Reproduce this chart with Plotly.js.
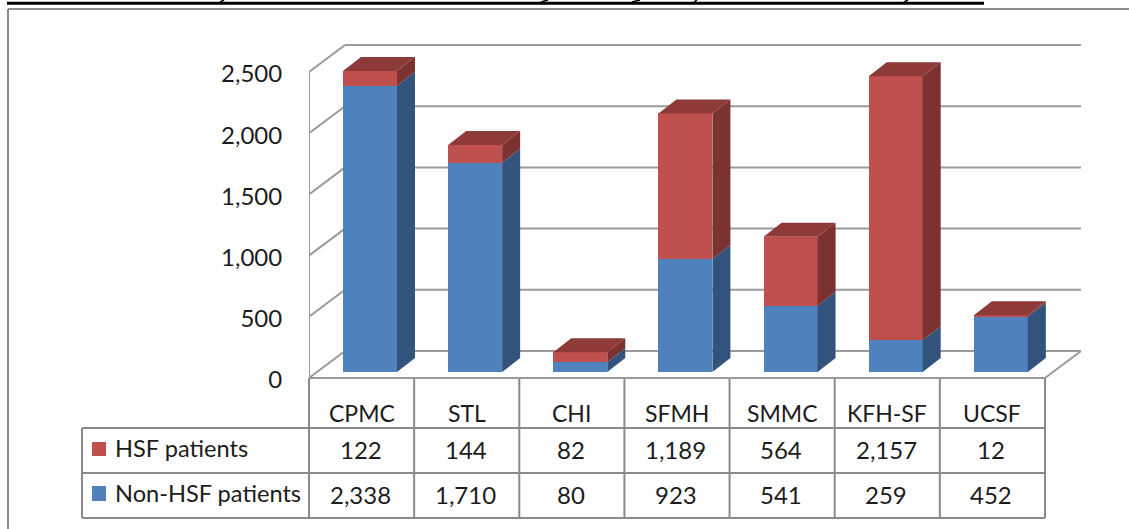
<!DOCTYPE html>
<html>
<head>
<meta charset="utf-8">
<script src="https://cdn.plot.ly/plotly-3.0.1.min.js"></script>
<style>html,body{margin:0;padding:0;background:#fff;overflow:hidden}#chart{width:1129px;height:529px}</style>
</head>
<body>
<div id="chart"></div>
<script>
var categories = ["CPMC", "STL", "CHI", "SFMH", "SMMC", "KFH-SF", "UCSF"];
var hsfPatients = [122, 144, 82, 1189, 564, 2157, 12];
var nonHsfPatients = [2338, 1710, 80, 923, 541, 259, 452];
var hsfName = "HSF patients";
var nonHsfName = "Non-HSF patients";
var yTicks = [0, 500, 1000, 1500, 2000, 2500];

var W = 1129, H = 529;
var FONT = "Lato, 'Open Sans', sans-serif";
var TEXT = "#1c1c1c", GRID = "#9a9a9a", FRAME = "#8a8a8a";
var COL = 105.14, LEFT = 309, RIGHT = 1081, TOP = 40, BOTTOM = 382;
var PXU = 0.1224;            // px per unit
var FRONT0 = 378, BAR0 = 372, LABEL0 = 380;
var DX = 36, DY = 27, SX = 18, SY = 14;
var BAR_L = 34, BAR_W = 54;

function xOf(px) { return -0.5 + (px - LEFT) / COL; }
function yOf(px) { return (BAR0 - px) / PXU; }
function py(px) { return 1 - px / H; }

var barOffset = (BAR_L - COL / 2) / COL, barWidth = BAR_W / COL;

function line(x0, y0, x1, y1, color, width, layer) {
  return {type: "line", xref: "x2", yref: "y2", x0: xOf(x0), x1: xOf(x1), y0: yOf(y0), y1: yOf(y1),
          line: {color: color || GRID, width: width || 2}, layer: layer || "below"};
}
function pline(x0, y0, x1, y1, color, width) {
  return {type: "line", xref: "paper", yref: "paper", x0: x0 / W, x1: x1 / W, y0: py(y0), y1: py(y1),
          line: {color: color || FRAME, width: width || 2}, layer: "below"};
}

var shapes = [];
// walls
yTicks.forEach(function (v) {
  var f = FRONT0 - v * PXU;
  shapes.push(line(LEFT, f, LEFT + DX, f - DY));
  shapes.push(line(LEFT + DX, f - DY, RIGHT, f - DY));
});
shapes.push(line(LEFT, FRONT0, LEFT, FRONT0 - 2500 * PXU));
shapes.push(line(LEFT, FRONT0, RIGHT - DX, FRONT0));
shapes.push(line(RIGHT - DX, FRONT0, RIGHT, FRONT0 - DY));

// outer frame + rule above
shapes.push(pline(8, 9, 8, 529));
shapes.push(pline(8, 9, 1129, 9));
shapes.push({type: "rect", xref: "paper", yref: "paper", x0: 7 / W, x1: 984 / W, y0: py(4.7), y1: py(1.8),
             fillcolor: "#000", line: {width: 0}, layer: "below"});
// tail ends of the cut-off heading above the rule
[[220, 224], [541, 548], [632, 640], [694, 697], [904, 908]].forEach(function (m) {
  shapes.push(pline(m[0], 2, m[1], 0, "#000", 1.5));
});

// table
var tRows = [FRONT0, 428, 473, 518];
shapes.push(pline(82, tRows[1], 1045, tRows[1]));
shapes.push(pline(82, tRows[2], 1045, tRows[2]));
shapes.push(pline(82, tRows[3], 1045, tRows[3]));
shapes.push(pline(82, tRows[1], 82, tRows[3]));
for (var c = 0; c <= categories.length; c++) {
  var xp = LEFT + c * COL;
  shapes.push(pline(xp, FRONT0, xp, tRows[3]));
}
// legend keys
function key(y0, y1, color) {
  return {type: "rect", xref: "paper", yref: "paper", x0: 92 / W, x1: 106 / W, y0: py(y1), y1: py(y0),
          fillcolor: color, line: {width: 0}};
}
shapes.push(key(442, 456, "#C0504D"));
shapes.push(key(486, 501, "#4F81BD"));

// 3-D faces derived from the values
function faces(bottoms, tops, withTop, sideColor, topColor) {
  var sx = [], sy = [], tx = [], ty = [];
  categories.forEach(function (_, i) {
    var xr = LEFT + BAR_L + BAR_W + i * COL;
    var xl = xr - BAR_W;
    var b = bottoms[i], t = tops[i], dy = SY / PXU;
    sx.push(xOf(xr), xOf(xr + SX), xOf(xr + SX), xOf(xr), xOf(xr), null);
    sy.push(b, b + dy, t + dy, t, b, null);
    tx.push(xOf(xl), xOf(xl + SX), xOf(xr + SX), xOf(xr), xOf(xl), null);
    ty.push(t, t + dy, t + dy, t, t, null);
  });
  var out = [{x: sx, y: sy, xaxis: "x2", yaxis: "y2", type: "scatter", mode: "lines", fill: "toself",
              fillcolor: sideColor, line: {width: 0, color: sideColor}, hoverinfo: "skip", showlegend: false}];
  if (withTop) out.push({x: tx, y: ty, xaxis: "x2", yaxis: "y2", type: "scatter", mode: "lines", fill: "toself",
              fillcolor: topColor, line: {width: 0, color: topColor}, hoverinfo: "skip", showlegend: false});
  return out;
}
var zeros = categories.map(function () { return 0; });
var totals = categories.map(function (_, i) { return nonHsfPatients[i] + hsfPatients[i]; });

var traces = [
  {type: "bar", name: nonHsfName, x: categories, y: nonHsfPatients, xaxis: "x", yaxis: "y2",
   offset: barOffset, width: barWidth, marker: {color: "#4F81BD"}},
  {type: "bar", name: hsfName, x: categories, y: hsfPatients, xaxis: "x", yaxis: "y2",
   offset: barOffset, width: barWidth, marker: {color: "#C0504D"}}
].concat(
  faces(zeros, nonHsfPatients, false, "#32547C"),
  faces(nonHsfPatients, totals, true, "#7B3230", "#8E3A38"),
  // invisible trace that carries the value axis
  [{type: "scatter", x: [categories[0]], y: [0], xaxis: "x", yaxis: "y", mode: "markers",
    marker: {opacity: 0}, hoverinfo: "skip", showlegend: false}]
);

// table text
var annotations = [];
function cell(xv, xref, yp, text, anchor, size) {
  annotations.push({x: xv, xref: xref, y: py(yp), yref: "paper", text: text, showarrow: false,
                    xanchor: anchor || "center", yanchor: "middle",
                    font: {family: FONT, size: size || 24, color: TEXT}});
}
categories.forEach(function (name, i) {
  cell(i, "x", 412.5, name, "center", 23);
  cell(i - 0.01, "x", 449, hsfPatients[i].toLocaleString("en-US"));
  cell(i - 0.01, "x", 494, nonHsfPatients[i].toLocaleString("en-US"));
});
cell(112.5 / W, "paper", 448, hsfName, "left", 23.6);
cell(112.5 / W, "paper", 493, nonHsfName, "left", 23.6);

var hiddenAxis = {showticklabels: false, ticks: "", showgrid: false, zeroline: false, showline: false};
var layout = {
  width: W, height: H, showlegend: false, barmode: "stack",
  paper_bgcolor: "#fff", plot_bgcolor: "rgba(0,0,0,0)",
  margin: {l: 0, r: 0, t: 0, b: 0, pad: 0},
  xaxis: Object.assign({type: "category", categoryorder: "array", categoryarray: categories,
          domain: [LEFT / W, RIGHT / W], range: [xOf(LEFT), xOf(RIGHT)], anchor: "y2"}, hiddenAxis),
  xaxis2: Object.assign({type: "linear", overlaying: "x", domain: [LEFT / W, RIGHT / W],
          range: [xOf(LEFT), xOf(RIGHT)], anchor: "y2"}, hiddenAxis),
  yaxis: {domain: [py(BOTTOM), py(TOP)], range: [(LABEL0 - BOTTOM) / PXU, (LABEL0 - TOP) / PXU],
          tickmode: "array", tickvals: yTicks, ticktext: yTicks.map(function (v) { return v.toLocaleString("en-US"); }),
          ticks: "outside", ticklen: 21, tickcolor: "rgba(0,0,0,0)", showgrid: false, zeroline: false, showline: false,
          tickfont: {family: FONT, size: 24, color: TEXT}, anchor: "x"},
  yaxis2: Object.assign({domain: [py(BOTTOM), py(TOP)], range: [yOf(BOTTOM), yOf(TOP)], overlaying: "y", anchor: "x"}, hiddenAxis),
  shapes: shapes,
  annotations: annotations
};
Plotly.newPlot("chart", traces, layout, {displayModeBar: false, staticPlot: true});
</script>
</body>
</html>
